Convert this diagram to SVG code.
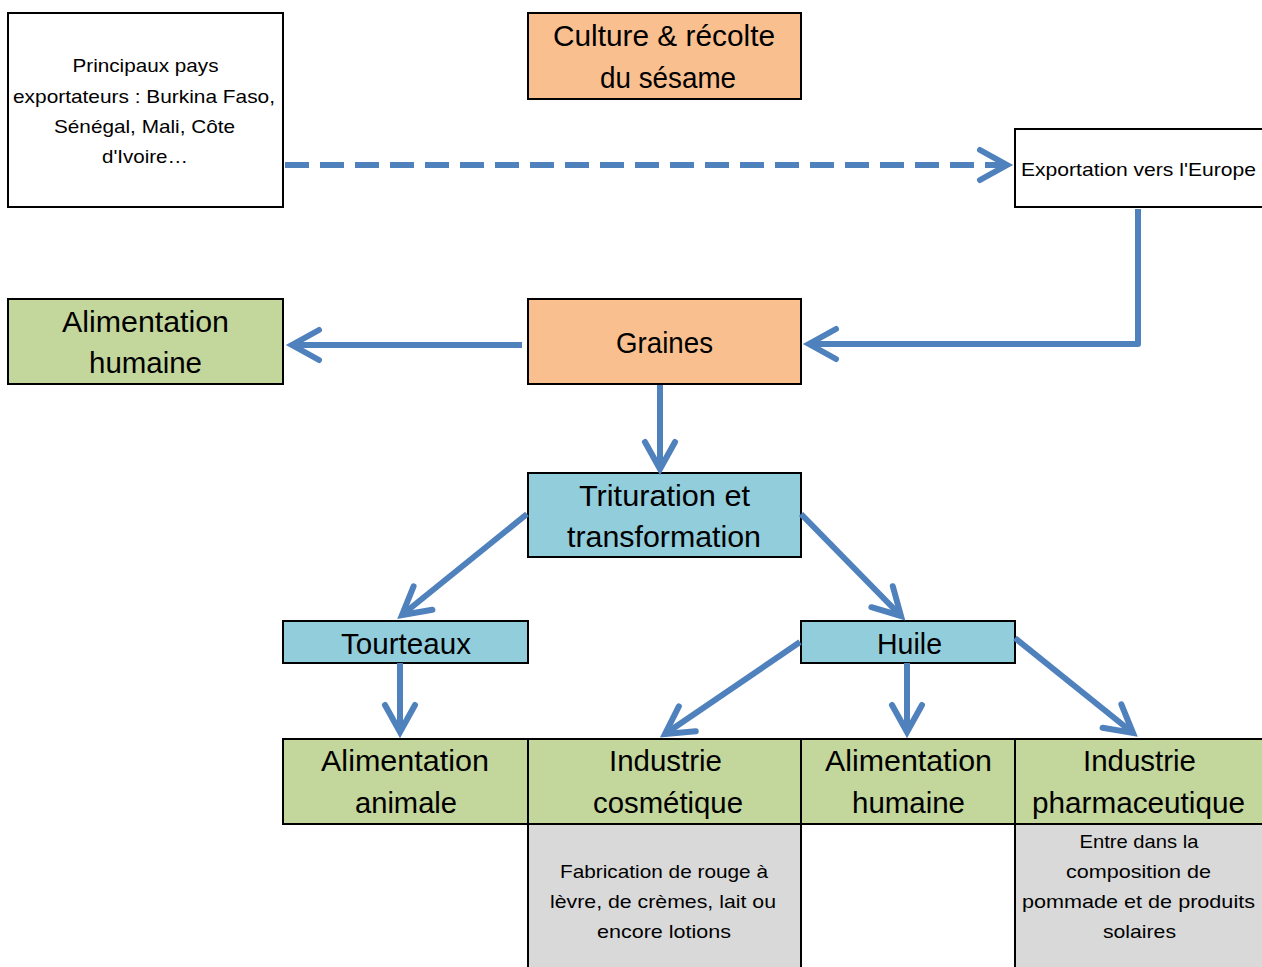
<svg xmlns="http://www.w3.org/2000/svg" width="1262" height="967" viewBox="0 0 1262 967">
<style>
.box{stroke:#000;stroke-width:2}
.w{fill:#fff}.o{fill:#FABF8F}.g{fill:#C3D69B}.b{fill:#92CDDC}.gr{fill:#D9D9D9}
.big{font-family:"Liberation Sans",Arial,sans-serif;font-size:29px;fill:#000;text-anchor:middle}
.sm{font-family:"Liberation Sans",Arial,sans-serif;font-size:19px;fill:#000;text-anchor:middle}
.c{fill:none;stroke:#4F81BD;stroke-width:6;stroke-linejoin:round}
</style>
<defs>
<marker id="ah" markerUnits="userSpaceOnUse" markerWidth="60" markerHeight="60" viewBox="-40 -30 60 60" refX="0" refY="0" orient="auto" overflow="visible">
<path d="M-27,-15 L0,0 L-27,15" fill="none" stroke="#4F81BD" stroke-width="6" stroke-linecap="round" stroke-linejoin="miter"/>
</marker>
</defs>
<rect width="1262" height="967" fill="#fff"/>

<g id="pays">
<rect class="box w" x="8" y="13" width="275" height="194"/>
<text class="sm" x="145.5" y="72" textLength="146" lengthAdjust="spacingAndGlyphs">Principaux pays</text>
<text class="sm" x="144" y="103" textLength="262" lengthAdjust="spacingAndGlyphs">exportateurs : Burkina Faso,</text>
<text class="sm" x="144.5" y="133" textLength="181" lengthAdjust="spacingAndGlyphs">Sénégal, Mali, Côte</text>
<text class="sm" x="145" y="163" textLength="86" lengthAdjust="spacingAndGlyphs">d'Ivoire…</text>
</g>

<g id="culture">
<rect class="box o" x="528" y="13" width="273" height="86"/>
<text class="big" x="664" y="46" textLength="222" lengthAdjust="spacingAndGlyphs">Culture &amp; récolte</text>
<text class="big" x="668" y="88" textLength="136" lengthAdjust="spacingAndGlyphs">du sésame</text>
</g>

<g id="export">
<rect class="box w" x="1015" y="129" width="260" height="78"/>
<text class="sm" x="1138.5" y="176" textLength="235" lengthAdjust="spacingAndGlyphs">Exportation vers l'Europe</text>
</g>

<g id="alim-humaine-1">
<rect class="box g" x="8" y="299" width="275" height="85"/>
<text class="big" x="145.5" y="332" textLength="167" lengthAdjust="spacingAndGlyphs">Alimentation</text>
<text class="big" x="145.5" y="373" textLength="113" lengthAdjust="spacingAndGlyphs">humaine</text>
</g>

<g id="graines">
<rect class="box o" x="528" y="299" width="273" height="85"/>
<text class="big" x="664.5" y="353" textLength="97" lengthAdjust="spacingAndGlyphs">Graines</text>
</g>

<g id="trituration">
<rect class="box b" x="528" y="473" width="273" height="84"/>
<text class="big" x="664.5" y="506" textLength="171" lengthAdjust="spacingAndGlyphs">Trituration et</text>
<text class="big" x="664" y="547" textLength="194" lengthAdjust="spacingAndGlyphs">transformation</text>
</g>

<g id="tourteaux">
<rect class="box b" x="283" y="621" width="245" height="42"/>
<text class="big" x="406" y="654" textLength="130" lengthAdjust="spacingAndGlyphs">Tourteaux</text>
</g>

<g id="huile">
<rect class="box b" x="801" y="621" width="214" height="42"/>
<text class="big" x="909.5" y="654" textLength="65" lengthAdjust="spacingAndGlyphs">Huile</text>
</g>

<g id="alim-animale">
<rect class="box g" x="283" y="739" width="245" height="85"/>
<text class="big" x="405" y="771" textLength="168" lengthAdjust="spacingAndGlyphs">Alimentation</text>
<text class="big" x="406" y="813" textLength="102" lengthAdjust="spacingAndGlyphs">animale</text>
</g>

<g id="cosmetique">
<rect class="box g" x="528" y="739" width="273" height="85"/>
<text class="big" x="665.5" y="771" textLength="113" lengthAdjust="spacingAndGlyphs">Industrie</text>
<text class="big" x="668" y="813" textLength="150" lengthAdjust="spacingAndGlyphs">cosmétique</text>
<rect class="box gr" x="528" y="824" width="273" height="150"/>
<text class="sm" x="664" y="878" textLength="208" lengthAdjust="spacingAndGlyphs">Fabrication de rouge à</text>
<text class="sm" x="663" y="908" textLength="226" lengthAdjust="spacingAndGlyphs">lèvre, de crèmes, lait ou</text>
<text class="sm" x="664" y="938" textLength="134" lengthAdjust="spacingAndGlyphs">encore lotions</text>
</g>

<g id="alim-humaine-2">
<rect class="box g" x="801" y="739" width="214" height="85"/>
<text class="big" x="908.5" y="771" textLength="167" lengthAdjust="spacingAndGlyphs">Alimentation</text>
<text class="big" x="908.5" y="813" textLength="113" lengthAdjust="spacingAndGlyphs">humaine</text>
</g>

<g id="pharma">
<rect class="box g" x="1015" y="739" width="260" height="85"/>
<text class="big" x="1139.5" y="771" textLength="113" lengthAdjust="spacingAndGlyphs">Industrie</text>
<text class="big" x="1138.5" y="813" textLength="213" lengthAdjust="spacingAndGlyphs">pharmaceutique</text>
<rect class="box gr" x="1015" y="824" width="260" height="150"/>
<text class="sm" x="1139" y="848" textLength="119" lengthAdjust="spacingAndGlyphs">Entre dans la</text>
<text class="sm" x="1138.5" y="878" textLength="145" lengthAdjust="spacingAndGlyphs">composition de</text>
<text class="sm" x="1138.5" y="908" textLength="233" lengthAdjust="spacingAndGlyphs">pommade et de produits</text>
<text class="sm" x="1139.5" y="938" textLength="73" lengthAdjust="spacingAndGlyphs">solaires</text>
</g>

<g id="connectors">
<path class="c" d="M285,165 L1007,165" stroke-dasharray="24 11" marker-end="url(#ah)"/>
<path class="c" d="M1138,209 L1138,344 L809,344" marker-end="url(#ah)"/>
<path class="c" d="M522,345 L292,345" marker-end="url(#ah)"/>
<path class="c" d="M660,385 L660,469" marker-end="url(#ah)"/>
<path class="c" d="M527,514 L402,615" marker-end="url(#ah)"/>
<path class="c" d="M801,514 L901,616" marker-end="url(#ah)"/>
<path class="c" d="M400,663 L400,732" marker-end="url(#ah)"/>
<path class="c" d="M800,642 L665,734" marker-end="url(#ah)"/>
<path class="c" d="M907,663 L907,732" marker-end="url(#ah)"/>
<path class="c" d="M1015,638 L1133,733" marker-end="url(#ah)"/>
</g>
</svg>
